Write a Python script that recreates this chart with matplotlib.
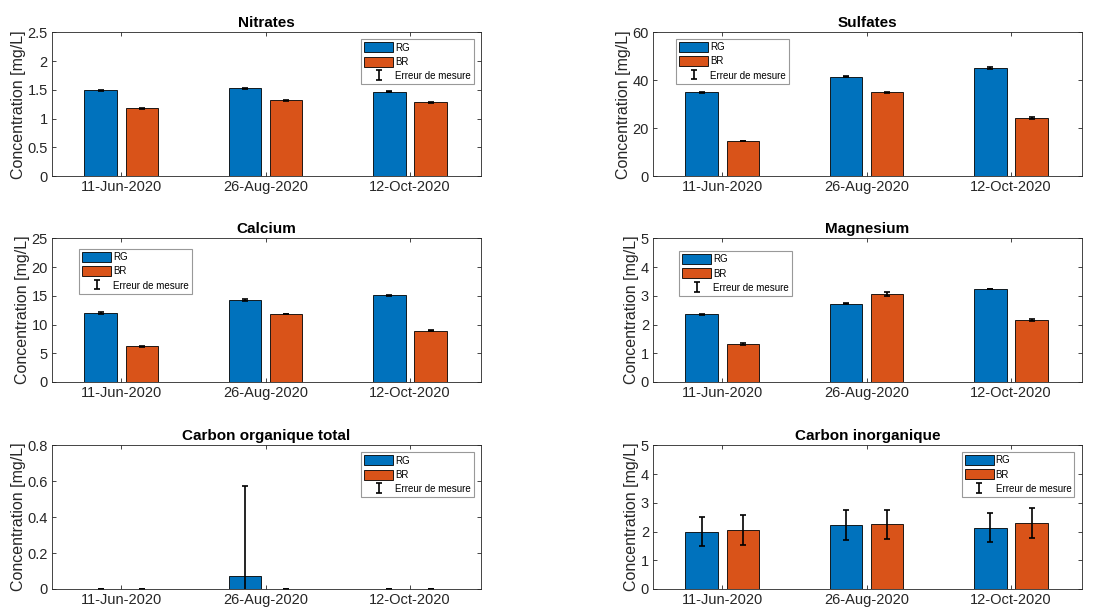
import numpy as np
import matplotlib
matplotlib.use("Agg")
import matplotlib.pyplot as plt
from matplotlib.ticker import FuncFormatter

dates = ["11-Jun-2020", "26-Aug-2020", "12-Oct-2020"]
series = ["RG", "BR"]
err_label = "Erreur de mesure"

titles = ["Nitrates", "Sulfates", "Calcium", "Magnesium",
          "Carbon organique total", "Carbon inorganique"]

nitrates_rg = [1.49, 1.53, 1.47]
nitrates_br = [1.18, 1.32, 1.28]
nitrates_rg_err = [0.005, 0.01, 0.01]
nitrates_br_err = [0.005, 0.01, 0.01]

sulfates_rg = [34.9, 41.5, 45.1]
sulfates_br = [14.6, 34.9, 24.2]
sulfates_rg_err = [0.15, 0.15, 0.3]
sulfates_br_err = [0.15, 0.4, 0.3]

calcium_rg = [12.0, 14.25, 15.1]
calcium_br = [6.2, 11.8, 8.95]
calcium_rg_err = [0.1, 0.15, 0.1]
calcium_br_err = [0.1, 0.05, 0.15]

magnesium_rg = [2.35, 2.73, 3.24]
magnesium_br = [1.32, 3.07, 2.15]
magnesium_rg_err = [0.01, 0.02, 0.005]
magnesium_br_err = [0.02, 0.06, 0.03]

cot_rg = [0.0, 0.075, 0.0]
cot_br = [0.0, 0.0, 0.0]
cot_rg_err = [0.0, 0.5, 0.0]
cot_br_err = [0.0, 0.0, 0.0]

ci_rg = [2.0, 2.23, 2.13]
ci_br = [2.05, 2.25, 2.30]
ci_rg_err = [0.51, 0.51, 0.50]
ci_br_err = [0.51, 0.51, 0.51]

data = [
    (nitrates_rg, nitrates_br, nitrates_rg_err, nitrates_br_err),
    (sulfates_rg, sulfates_br, sulfates_rg_err, sulfates_br_err),
    (calcium_rg, calcium_br, calcium_rg_err, calcium_br_err),
    (magnesium_rg, magnesium_br, magnesium_rg_err, magnesium_br_err),
    (cot_rg, cot_br, cot_rg_err, cot_br_err),
    (ci_rg, ci_br, ci_rg_err, ci_br_err),
]
ylims = [(0, 2.5), (0, 60), (0, 25), (0, 5), (0, 0.8), (0, 5)]
yticks = [np.arange(0, 2.51, 0.5), np.arange(0, 61, 20), np.arange(0, 26, 5),
          np.arange(0, 5.1, 1), np.arange(0, 0.81, 0.2), np.arange(0, 5.1, 1)]
legends = [("upper right", (0.984, 0.951)),
           ("upper left", (0.054, 0.956)),
           ("upper left", (0.063, 0.928)),
           ("upper left", (0.061, 0.912)),
           ("upper right", (0.984, 0.951)),
           ("upper right", (0.983, 0.953))]

plt.rcParams['font.family'] = ['Liberation Sans', 'DejaVu Sans']
BLUE = "#0072BD"
ORANGE = "#D95319"
AXC = "#262626"

fig = plt.figure(figsize=(11.19, 6.15), dpi=100)
lefts = [0.0465, 0.5836]
bottoms = [0.7138, 0.3789, 0.0423]
W = 0.383
H = 0.2335

x = np.arange(1, len(dates) + 1)
off = 0.143
bw = 0.225

for i, (rg, br, rge, bre) in enumerate(data):
    r, c = divmod(i, 2)
    ax = fig.add_axes([lefts[c], bottoms[r], W, H])
    b1 = ax.bar(x - off, rg, bw, color=BLUE, edgecolor="black", linewidth=0.6, label=series[0])
    b2 = ax.bar(x + off, br, bw, color=ORANGE, edgecolor="black", linewidth=0.6, label=series[1])
    eb = ax.errorbar(x - off, rg, yerr=rge, fmt="none", ecolor="black",
                     elinewidth=1.2, capsize=2.5, capthick=1.2, label=err_label)
    ax.errorbar(x + off, br, yerr=bre, fmt="none", ecolor="black",
                elinewidth=1.2, capsize=2.5, capthick=1.2)
    ax.set_xlim(0.52, 3.49)
    ax.set_ylim(*ylims[i])
    ax.set_yticks(yticks[i])
    ax.yaxis.set_major_formatter(FuncFormatter(lambda v, p: "%g" % round(v, 6)))
    ax.set_xticks(x)
    ax.set_xticklabels(dates)
    ax.tick_params(direction="in", top=True, right=True, length=3, width=0.6,
                   colors=AXC, labelsize=10.5, pad=3)
    for s in ax.spines.values():
        s.set_color(AXC)
        s.set_linewidth(0.6)
    ax.set_title(titles[i], fontsize=11, fontweight="bold", pad=4)
    ax.set_ylabel("Concentration [mg/L]", fontsize=11.5, color=AXC, labelpad=1)
    loc, anchor = legends[i]
    leg = ax.legend(handles=[b1, b2, eb], labels=[series[0], series[1], err_label],
                    loc=loc, bbox_to_anchor=anchor, borderaxespad=0,
                    fontsize=7, fancybox=False, framealpha=1, edgecolor="#999999",
                    handlelength=3.0, handleheight=1.2, handletextpad=0.2,
                    labelspacing=0.42, borderpad=0.3)
    leg.get_frame().set_linewidth(0.8)

fig.savefig("out.png", dpi=100)
